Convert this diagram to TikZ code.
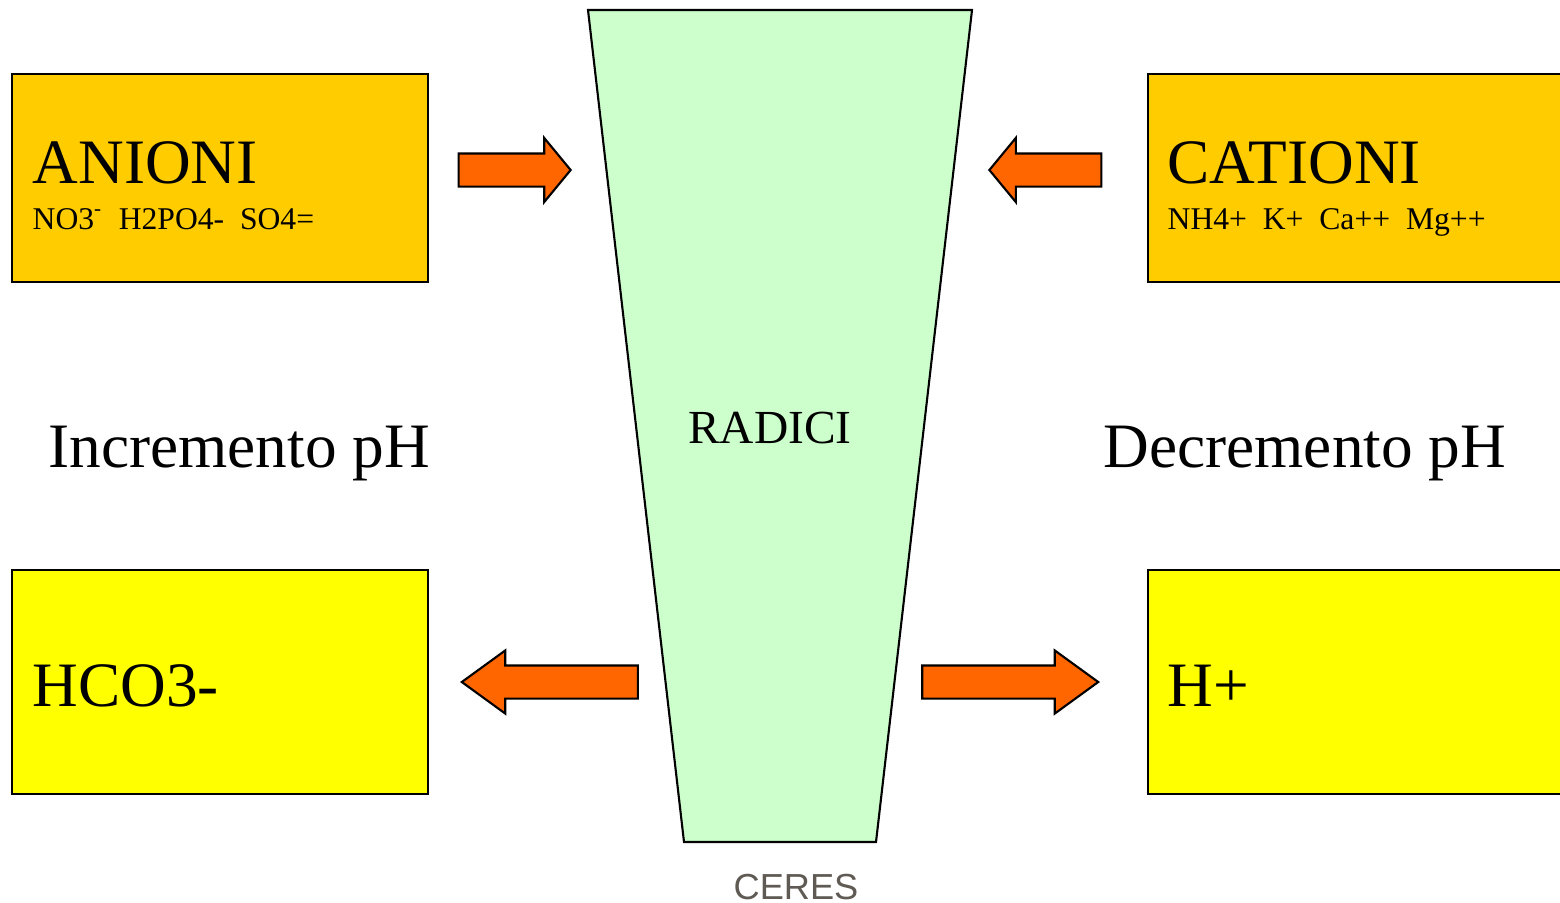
\documentclass[tikz,border=0pt]{standalone}
\usepackage{fontspec}
\setmainfont{Liberation Serif}
\setsansfont{Liberation Sans}
\usepackage{tikz}
\usetikzlibrary{shapes.arrows, positioning}
\definecolor{ionbg}{HTML}{FFCC00}
\definecolor{prodbg}{HTML}{FFFF00}
\definecolor{rootbg}{HTML}{CCFFCC}
\definecolor{flow}{HTML}{FF6600}
\definecolor{credit}{HTML}{5F5A53}
\tikzset{
    box/.style={rectangle, draw=black, line width=0.6pt, minimum width=4.16cm,
                minimum height=2.08cm, inner sep=0pt},
    ionbox/.style={box, fill=ionbg},
    prodbox/.style={box, fill=prodbg, minimum height=2.24cm},
    title/.style={anchor=base west, inner sep=0pt, font=\fontsize{18}{21}\selectfont},
    ions/.style={anchor=base west, inner sep=0pt, font=\fontsize{9}{11}\selectfont},
    phnote/.style={anchor=base west, inner sep=0pt, font=\fontsize{18}{21}\selectfont},
    flowarr/.style={single arrow, draw=black, fill=flow, line width=0.6pt, inner sep=0pt,
                    text height=0.155cm, text depth=0.155cm, single arrow head extend=0.155cm,
                    minimum height=1.12cm, single arrow tip angle=101, anchor=tip},
    longarr/.style={flowarr, single arrow head extend=0.15cm, minimum height=1.76cm,
                    single arrow tip angle=72},
    rootshape/.style={draw=black, line width=0.6pt, fill=rootbg},
}

\begin{document}
\begin{tikzpicture}

  \path[fill=white] (0,0) rectangle (15.6,9.02);
  \useasboundingbox (0,0) rectangle (15.6,9.02);

  % roots
  \draw[rootshape] (5.88,8.92) -- (9.72,8.92) -- (8.76,0.60) -- (6.84,0.60) -- cycle;
  \node[anchor=base, inner sep=0pt, font=\fontsize{13.5}{16}\selectfont] (radici) at (7.70,4.59) {RADICI};

  % boxes
  \node[ionbox] (anioni) at (2.20,7.24) {};
  \node[ionbox, minimum width=4.20cm] (cationi) at (13.58,7.24) {};
  \node[prodbox] (hco) at (2.20,2.20) {};
  \node[prodbox, minimum width=4.20cm] (hplus) at (13.58,2.20) {};

  \node[title] (anionititle) at (0.32,7.19) {ANIONI};
  \node[ions] (anionilist) at (0.32,6.73) {NO3\textsuperscript{-}~~H2PO4-~~SO4=};
  \node[title] (cationititle) at (11.67,7.19) {CATIONI};
  \node[ions] (cationilist) at (11.67,6.73) {NH4+~~K+~~Ca++~~Mg++};
  \node[title] (hcotitle) at (0.32,1.96) {HCO3-};
  \node[title] (hplustitle) at (11.67,1.96) {H+};

  \node[phnote] (incr) at (0.48,4.35) {Incremento pH};
  \node[phnote] (decr) at (11.03,4.35) {Decremento pH};

  % arrows
  \node[flowarr] (anin) at (5.72,7.32) {};
  \node[flowarr, shape border rotate=180] (catin) at (9.88,7.32) {};
  \node[longarr, shape border rotate=180] (hcoout) at (4.60,2.20) {};
  \node[longarr] (hout) at (11.00,2.20) {};

  \node[anchor=base, inner sep=0pt, text=credit, font=\sffamily\fontsize{10.3}{12}\selectfont] (ceres) at (7.96,0.03) {CERES};

\end{tikzpicture}
\end{document}
